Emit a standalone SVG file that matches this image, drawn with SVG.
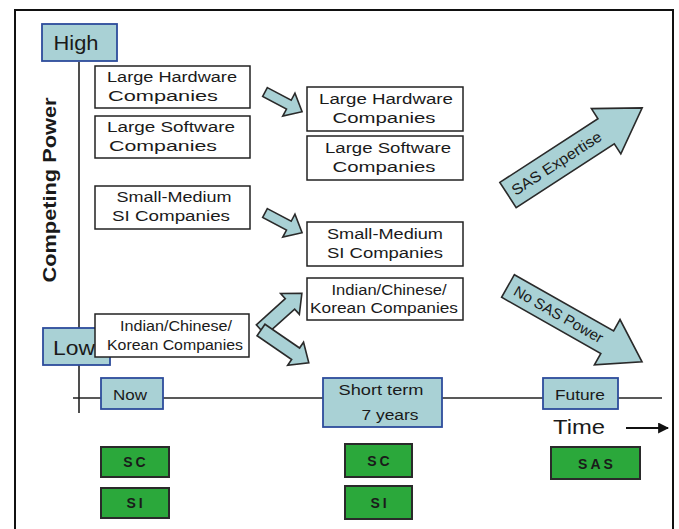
<svg xmlns="http://www.w3.org/2000/svg" width="679" height="529" viewBox="0 0 679 529">
<defs>
<style>
text{font-family:"Liberation Sans",Arial,sans-serif;fill:#1a1a1a}
.box{fill:#fff;stroke:#222;stroke-width:1.5}
.lbl{fill:#a9d1d5;stroke:#2d4c9c;stroke-width:1.8}
.grn{fill:#2ba83b;stroke:#2a2a2a;stroke-width:2}
.arr{fill:#a9d1d5;stroke:#2a2a2a;stroke-width:1.6;stroke-linejoin:miter}
.t14{font-size:15.5px;text-anchor:middle}
.g{font-size:14px;font-weight:bold;text-anchor:middle;letter-spacing:3px}
.axis{stroke:#222;stroke-width:1.6;fill:none}
</style>
<marker id="ah" viewBox="0 0 10 10" refX="9" refY="5" markerWidth="5" markerHeight="5" orient="auto"><path d="M0,0 L10,5 L0,10 Z" fill="#111"/></marker>
</defs>
<rect x="0" y="0" width="679" height="529" fill="#fff"/>
<path d="M15,540 V10 H673 V540" fill="none" stroke="#111" stroke-width="2"/>

<g id="axes">
<line class="axis" x1="79" y1="62" x2="79" y2="413"/>
<line class="axis" x1="73" y1="398" x2="662" y2="398"/>
<line x1="626" y1="428" x2="668" y2="428" stroke="#111" stroke-width="2.2" marker-end="url(#ah)"/>
<text x="553" y="434" font-size="20" textLength="52" lengthAdjust="spacingAndGlyphs">Time</text>
<text transform="translate(56,190) rotate(-90)" font-size="19" font-weight="bold" text-anchor="middle" textLength="185" lengthAdjust="spacingAndGlyphs">Competing Power</text>
</g>

<g id="high"><rect class="lbl" x="42" y="24" width="75" height="37"/><text x="76" y="50" font-size="20" text-anchor="middle" textLength="45" lengthAdjust="spacingAndGlyphs">High</text></g>
<g id="low"><rect class="lbl" x="43" y="328" width="67" height="37"/><text x="74" y="355" font-size="20" text-anchor="middle" textLength="42" lengthAdjust="spacingAndGlyphs">Low</text></g>

<g id="connectors">
<path class="arr" transform="translate(265,92) rotate(28)" d="M0,-5 L27,-5 L27,-13 L42,0 L27,13 L27,5 L0,5 Z"/>
<path class="arr" transform="translate(265,213) rotate(28)" d="M0,-5 L27,-5 L27,-13 L42,0 L27,13 L27,5 L0,5 Z"/>
<path class="arr" transform="translate(261,330) rotate(-42)" d="M0,-7 L39,-7 L39,-14 L55,0 L39,14 L39,7 L0,7 Z"/>
<path class="arr" transform="translate(261,330) rotate(34.5)" d="M0,-7 L42,-7 L42,-14 L58,0 L42,14 L42,7 L0,7 Z"/>
<g transform="translate(508,195) rotate(-33)">
<path class="arr" d="M0,-15 L117,-15 L117,-27 L160,0 L117,27 L117,15 L0,15 Z"/>
<text x="58" y="5" font-size="15" text-anchor="middle" textLength="104" lengthAdjust="spacingAndGlyphs">SAS Expertise</text>
</g>
<g transform="translate(508,286) rotate(29.5)">
<path class="arr" d="M0,-13 L114,-13 L114,-26 L154,0 L114,26 L114,13 L0,13 Z"/>
<text x="58" y="5" font-size="15" text-anchor="middle" textLength="100" lengthAdjust="spacingAndGlyphs">No SAS Power</text>
</g>
</g>

<g id="lhw-now"><rect class="box" x="95" y="66" width="155" height="42"/><text class="t14" x="172" y="82" textLength="130" lengthAdjust="spacingAndGlyphs">Large Hardware</text><text class="t14" x="163" y="101" textLength="110" lengthAdjust="spacingAndGlyphs">Companies</text></g>
<g id="lsw-now"><rect class="box" x="95" y="116" width="155" height="42"/><text class="t14" x="171" y="132" textLength="128" lengthAdjust="spacingAndGlyphs">Large Software</text><text class="t14" x="163" y="151" textLength="108" lengthAdjust="spacingAndGlyphs">Companies</text></g>
<g id="smsi-now"><rect class="box" x="95" y="186" width="155" height="43"/><text class="t14" x="174" y="202" textLength="115" lengthAdjust="spacingAndGlyphs">Small-Medium</text><text class="t14" x="171" y="221" textLength="118" lengthAdjust="spacingAndGlyphs">SI Companies</text></g>
<g id="ick-now"><rect class="box" x="95" y="314" width="154" height="43"/><text class="t14" x="176" y="331" font-size="14" textLength="112" lengthAdjust="spacingAndGlyphs">Indian/Chinese/</text><text class="t14" x="175" y="350" font-size="14" textLength="136" lengthAdjust="spacingAndGlyphs">Korean Companies</text></g>

<g id="lhw-st"><rect class="box" x="307" y="87" width="156" height="44"/><text class="t14" x="386" y="104" textLength="134" lengthAdjust="spacingAndGlyphs">Large Hardware</text><text class="t14" x="384" y="123" textLength="103" lengthAdjust="spacingAndGlyphs">Companies</text></g>
<g id="lsw-st"><rect class="box" x="307" y="136" width="156" height="44"/><text class="t14" x="388" y="153" textLength="126" lengthAdjust="spacingAndGlyphs">Large Software</text><text class="t14" x="384" y="172" textLength="103" lengthAdjust="spacingAndGlyphs">Companies</text></g>
<g id="smsi-st"><rect class="box" x="307" y="222" width="156" height="44"/><text class="t14" x="385" y="239" textLength="116" lengthAdjust="spacingAndGlyphs">Small-Medium</text><text class="t14" x="385" y="258" textLength="116" lengthAdjust="spacingAndGlyphs">SI Companies</text></g>
<g id="ick-st"><rect class="box" x="307" y="278" width="156" height="42"/><text class="t14" x="389" y="295" font-size="14" textLength="115" lengthAdjust="spacingAndGlyphs">Indian/Chinese/</text><text class="t14" x="384" y="313" font-size="14" textLength="148" lengthAdjust="spacingAndGlyphs">Korean Companies</text></g>

<g id="now"><rect class="lbl" x="101" y="378" width="62" height="31"/><text x="130" y="400" font-size="15.5" text-anchor="middle" textLength="34" lengthAdjust="spacingAndGlyphs">Now</text></g>
<g id="shortterm"><rect class="lbl" x="323" y="378" width="119" height="49"/><text x="381" y="395" font-size="15.5" text-anchor="middle" textLength="85" lengthAdjust="spacingAndGlyphs">Short term</text><text x="390" y="420" font-size="15.5" text-anchor="middle" textLength="57" lengthAdjust="spacingAndGlyphs">7 years</text></g>
<g id="future"><rect class="lbl" x="543" y="378" width="75" height="31"/><text x="580" y="400" font-size="15.5" text-anchor="middle" textLength="50" lengthAdjust="spacingAndGlyphs">Future</text></g>

<g id="sc-now"><rect class="grn" x="101" y="447" width="68" height="30"/><text class="g" x="136" y="467">SC</text></g>
<g id="si-now"><rect class="grn" x="101" y="488" width="68" height="30"/><text class="g" x="136" y="508">SI</text></g>
<g id="sc-st"><rect class="grn" x="345" y="444" width="67" height="33"/><text class="g" x="380" y="466">SC</text></g>
<g id="si-st"><rect class="grn" x="345" y="486" width="67" height="33"/><text class="g" x="380" y="508">SI</text></g>
<g id="sas"><rect class="grn" x="551" y="447" width="89" height="32"/><text class="g" x="597" y="469">SAS</text></g>
</svg>
